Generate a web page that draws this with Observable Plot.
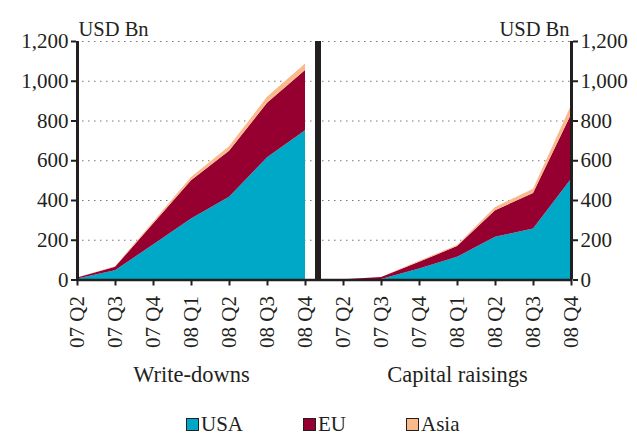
<!DOCTYPE html>
<html><head><meta charset="utf-8">
<script src="https://cdn.jsdelivr.net/npm/d3@7"></script>
<script src="https://cdn.jsdelivr.net/npm/@observablehq/plot@0.6"></script>
<style>
body{margin:0;background:#fff;font-family:"Liberation Serif","Times New Roman","DejaVu Serif",serif;color:#231f20}
#wrap{width:637px;height:436px;overflow:hidden}
#legend{display:flex;padding-left:186px;gap:60px;padding-top:9px;font-size:21px;line-height:21px}
#legend .item{white-space:nowrap}
#legend .sw{display:inline-block;width:11px;height:11px;border:1px solid #231f20;margin-right:2px;vertical-align:baseline}
svg text{font-family:"Liberation Serif","Times New Roman","DejaVu Serif",serif}
</style></head><body><div id="wrap"><div id="chart"></div><div id="legend"></div></div>
<script>
const quarters = ["07 Q2","07 Q3","07 Q4","08 Q1","08 Q2","08 Q3","08 Q4"];
const regions = ["USA","EU","Asia"];
const colors = ["#00a8c8","#960030","#f9b98a"];
const panels = ["Write-downs","Capital raisings"];
const yTicks = [0,200,400,600,800,1000,1200];
const unitLabel = "USD Bn";

// Write-downs (USD Bn, cumulative)
const wdUSA  = [5, 47, 176, 307, 416, 615, 751];
const wdEU   = [5, 17, 106, 193, 232, 274, 303];
const wdAsia = [0, 3, 8, 16, 22, 30, 33];
// Capital raisings (USD Bn, cumulative)
const crUSA  = [0, 2, 55, 114, 215, 256, 507];
const crEU   = [1, 11, 34, 54, 134, 179, 325];
const crAsia = [0, 0, 5, 5, 16, 22, 45];

const series = {
  "Write-downs": {USA: wdUSA, EU: wdEU, Asia: wdAsia},
  "Capital raisings": {USA: crUSA, EU: crEU, Asia: crAsia}
};
const keys = [];
panels.forEach(p => quarters.forEach(q => keys.push(p + "|" + q)));
const data = [];
panels.forEach(p => regions.forEach(r => quarters.forEach((q, i) => {
  data.push({panel: p, key: p + "|" + q, quarter: q, region: r, value: series[p][r][i]});
})));
const ink = "#231f20";
const font = "'Liberation Serif', 'Times New Roman', 'DejaVu Serif', serif";
const lastLeft = panels[0] + "|" + quarters[quarters.length - 1];
const firstKey = keys[0], lastKey = keys[keys.length - 1];
const midKey = p => p + "|" + quarters[3];

const plot = Plot.plot({
  width: 637, height: 405,
  marginLeft: 76, marginRight: 65, marginTop: 41, marginBottom: 125.5,
  style: {fontFamily: font, fontSize: "21px", color: ink, background: "transparent", overflow: "visible"},
  x: {type: "point", domain: keys, padding: 0},
  y: {domain: [0, 1200]},
  color: {domain: regions, range: colors},
  marks: [
    Plot.gridY(yTicks.slice(1), {stroke: "#777", strokeOpacity: 1, strokeDasharray: "1.5,4.5", strokeWidth: 1.2}),
    ...panels.map(p => Plot.areaY(data.filter(d => d.panel === p), {x: "key", y: "value", fill: "region", z: "region", order: regions})),
    Plot.ruleX([lastLeft], {dx: 12.5, stroke: ink, strokeWidth: 6}),
    Plot.ruleX([firstKey], {stroke: ink, strokeWidth: 3}),
    Plot.ruleX([lastKey], {stroke: ink, strokeWidth: 3}),
    Plot.ruleY([0], {stroke: ink, strokeWidth: 2.5}),
    Plot.axisX({tickSize: 6, tickPadding: 10, tickRotate: -90, tickFormat: k => k.split("|")[1], strokeWidth: 2, stroke: ink, fill: ink, label: null, fontSize: 21}),
    Plot.axisY(yTicks, {anchor: "left", tickSize: 5, tickPadding: 3, strokeWidth: 2, stroke: ink, fill: ink, label: null, fontSize: 21}),
    Plot.axisY(yTicks, {anchor: "right", tickSize: 5, tickPadding: 3, strokeWidth: 2, stroke: ink, fill: ink, label: null, fontSize: 21}),
    Plot.text([unitLabel], {x: () => firstKey, frameAnchor: "top", textAnchor: "start", dy: -20, dx: 1, fontSize: 20.5, fill: ink}),
    Plot.text([unitLabel], {x: () => lastKey, frameAnchor: "top", textAnchor: "end", dy: -20, dx: -2, fontSize: 20.5, fill: ink}),
    Plot.text(panels, {x: p => midKey(p), text: p => p, frameAnchor: "bottom", dy: 101.5, fontSize: 22.5, fill: ink})
  ]
});
document.getElementById("chart").appendChild(plot);

const leg = document.getElementById("legend");
regions.forEach((r, i) => {
  const it = document.createElement("span");
  it.className = "item";
  const sw = document.createElement("span");
  sw.className = "sw";
  sw.style.background = colors[i];
  it.appendChild(sw);
  it.appendChild(document.createTextNode(r));
  leg.appendChild(it);
});
</script></body></html>
